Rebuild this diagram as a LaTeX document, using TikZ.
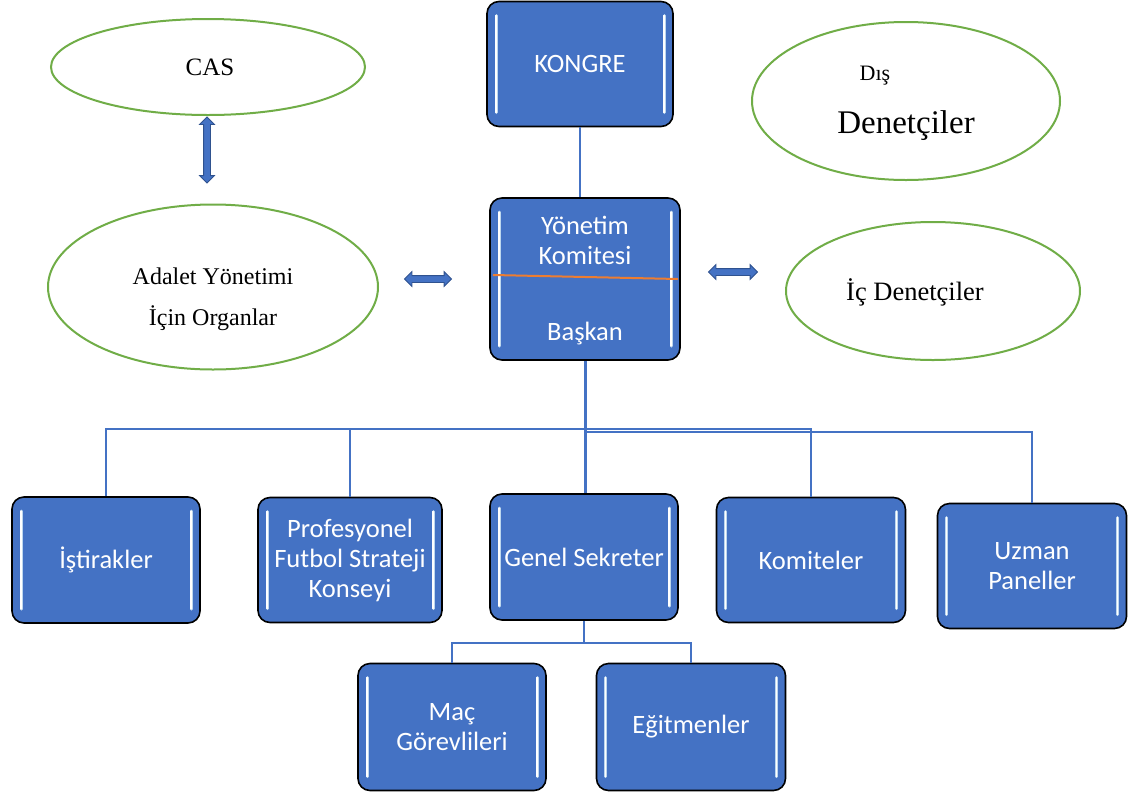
\documentclass[tikz,border=0pt]{standalone}
\usepackage{fontspec}
\setmainfont{Liberation Serif}
\newfontfamily\boxfont{Carlito}
\usetikzlibrary{shapes.geometric,shapes.arrows}

\definecolor{boxblue}{HTML}{4472C4}
\definecolor{arrowedge}{HTML}{2F528F}
\definecolor{ovalgreen}{HTML}{70AD47}
\definecolor{splitorange}{HTML}{ED7D31}
\definecolor{glow}{HTML}{BDD7EE}

\tikzset{
  orgbox/.style={rectangle, rounded corners=12pt, draw=black, line width=1.6pt,
    fill=boxblue, text=white, align=center, inner sep=2pt,
    font=\boxfont\fontsize{26.5}{30}\selectfont,
    path picture={
      \foreach \side/\dx in {west/9pt, east/-9pt}{
        \draw[glow, line width=3pt, line cap=round]
          ([xshift=\dx, yshift=-14pt]path picture bounding box.north \side) --
          ([xshift=\dx, yshift=14pt]path picture bounding box.south \side);
        \draw[white, line width=1.1pt, line cap=round]
          ([xshift=\dx, yshift=-14pt]path picture bounding box.north \side) --
          ([xshift=\dx, yshift=14pt]path picture bounding box.south \side);
      }
    }},
  boxtext/.style={text=white, align=center, inner sep=0pt,
    font=\boxfont\fontsize{26.5}{30}\selectfont},
  oval/.style={ellipse, draw=ovalgreen, line width=2pt, fill=white, inner sep=0pt},
  ovaltext/.style={align=center, inner sep=0pt, text=black},
  link/.style={draw=boxblue, line width=2pt},
  trunk/.style={draw=boxblue, line width=3pt},
  twoway/.style={double arrow, draw=arrowedge, fill=boxblue, line width=0.8pt,
    inner sep=3pt, double arrow head extend=4pt, double arrow head indent=0pt}
}

\begin{document}
\begin{tikzpicture}[x=1pt, y=-1pt]
\useasboundingbox (0,0) rectangle (1133,796);

% central column
\node[orgbox, minimum width=186, minimum height=125] (kongre) at (580,64) {KONGRE};
\node[orgbox, minimum width=190, minimum height=162] (yk) at (585,279) {};
\node[boxtext] (yktop) at (585,240) {Yönetim\\Komitesi};
\node[boxtext] (ykbot) at (585,334) {Başkan};
\draw[splitorange, line width=2pt] (493,275) -- (678,279);

% second level
\node[orgbox, minimum width=188, minimum height=126] (istirak) at (106,560) {İştirakler};
\node[orgbox, minimum width=184, minimum height=125] (prof) at (350,560) {Profesyonel\\Futbol Strateji\\Konseyi};
\node[orgbox, minimum width=188, minimum height=126] (genel) at (584,557) {Genel Sekreter};
\node[orgbox, minimum width=189, minimum height=125] (komite) at (811,560) {Komiteler};
\node[orgbox, minimum width=189, minimum height=125] (uzman) at (1032,566) {Uzman\\Paneller};

% third level
\node[orgbox, minimum width=188, minimum height=127] (mac) at (452,727) {Maç\\Görevlileri};
\node[orgbox, minimum width=189, minimum height=127] (egit) at (691,727) {Eğitmenler};

% ovals
\node[oval, minimum width=314, minimum height=96] (cas) at (208,67) {};
\node[ovaltext, font=\fontsize{25}{28}\selectfont] (castext) at (210,67) {CAS};
\node[oval, minimum width=330, minimum height=165] (adalet) at (213,287) {};
\node[ovaltext, font=\fontsize{24}{41}\selectfont] (adalettext) at (213,299) {Adalet Yönetimi\\İçin Organlar};
\node[oval, minimum width=308, minimum height=158] (dis) at (906,101) {};
\node[ovaltext, font=\fontsize{22}{26}\selectfont] (distop) at (875,76) {Dış};
\node[ovaltext, font=\fontsize{33}{38}\selectfont] (disbot) at (906,126) {Denetçiler};
\node[oval, minimum width=294, minimum height=138] (ic) at (933,291) {};
\node[ovaltext, font=\fontsize{26.5}{30}\selectfont] (ictext) at (915,292) {İç Denetçiler};

% two-way block arrows
\node[twoway, minimum height=66, rotate=90] (arrcas) at (207,150) {};
\node[twoway, minimum height=47] (arradalet) at (428,279) {};
\node[twoway, minimum height=49] (arric) at (733,272) {};

% connectors
\coordinate (busL) at (585,429);
\coordinate (busR) at (585,432);
\coordinate (busG) at (585,643);
\draw[link] (kongre.south) -- (kongre.south |- yk.north);
\draw[trunk] (yk.south) -- (yk.south |- genel.north);
\draw[link] (istirak.north) |- (busL);
\draw[link] (prof.north) -- (prof.north |- busL);
\draw[link] (komite.north) |- (busL);
\draw[link] (uzman.north) |- (busR);
\draw[link] (genel.south) -- (genel.south |- busG);
\draw[link] (mac.north) |- (busG);
\draw[link] (egit.north) |- (busG);
\end{tikzpicture}
\end{document}
